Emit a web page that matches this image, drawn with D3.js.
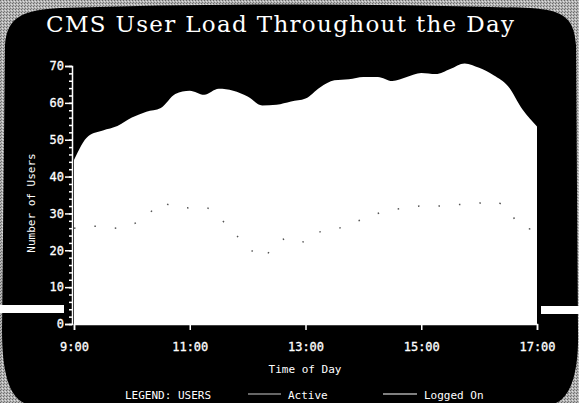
<!DOCTYPE html>
<html>
<head>
<meta charset="utf-8">
<script src="https://cdn.jsdelivr.net/npm/d3@7"></script>
<style>
  html, body { margin: 0; padding: 0; background: #a8a8a8; }
  svg { display: block; }
</style>
</head>
<body>
<div id="chart"></div>
<script>
// data, 15 minute samples
var times = ["9:00","9:15","9:30","9:45","10:00","10:15","10:30","10:45",
  "11:00","11:15","11:30","11:45","12:00","12:15","12:30","12:45",
  "13:00","13:15","13:30","13:45","14:00","14:15","14:30","14:45",
  "15:00","15:15","15:30","15:45","16:00","16:15","16:30","16:45","17:00"];
var loggedOn = [44.5, 51, 52.5, 53.7, 56, 57.6, 58.6, 62.4,
  63.3, 62.2, 63.8, 63.3, 61.7, 59.3, 59.5, 60.4,
  61.2, 64.2, 66.1, 66.4, 67, 67, 65.9, 67,
  68.1, 67.8, 69.2, 70.7, 69.5, 67.5, 64.5, 58.2, 53.6];
var active = [26, 26.5, 26.5, 26, 27, 29, 33, 31.7,
  31.5, 31.7, 29, 25, 21, 18, 22, 23.4,
  22.2, 25, 25.6, 27, 28.5, 30, 31, 31.5,
  32, 32, 32.3, 32.5, 32.8, 33.3, 31, 26, 25.7];
var xTicks = ["9:00", "11:00", "13:00", "15:00", "17:00"];
var yTicks = [0, 10, 20, 30, 40, 50, 60, 70];

var width = 579, height = 403;
var mono = "'DejaVu Sans Mono', monospace";
var parse = d3.timeParse("%H:%M");

var svg = d3.select("#chart").append("svg")
  .attr("width", width)
  .attr("height", height);

// dithered grey surround
var pat = svg.append("defs").append("pattern")
  .attr("id", "dith")
  .attr("width", 3).attr("height", 3)
  .attr("patternUnits", "userSpaceOnUse");
pat.append("rect").attr("width", 3).attr("height", 3).attr("fill", "#b4b4b4");
pat.append("rect").attr("x", 0).attr("y", 0).attr("width", 1).attr("height", 1).attr("fill", "#6a6a6a");
pat.append("rect").attr("x", 2).attr("y", 1).attr("width", 1).attr("height", 1).attr("fill", "#e0e0e0");
pat.append("rect").attr("x", 1).attr("y", 2).attr("width", 1).attr("height", 1).attr("fill", "#7a7a7a");

svg.append("rect")
  .attr("width", width).attr("height", height)
  .attr("fill", "url(#dith)");

// the screen itself
svg.append("path")
  .attr("d", "M5,45 C7,16 24,10 60,8 Q300,1 530,8 C566,10 574,20 576,45 " +
             "L578,330 C579,372 571,396 556,403 L24,403 C9,396 2,372 2,330 Z")
  .attr("fill", "#000");

var x = d3.scaleTime()
  .domain([parse("9:00"), parse("17:00")])
  .range([74, 537]);

var y = d3.scaleLinear()
  .domain([0, 70])
  .range([324, 66]);

var rows = times.map(function(t, i) {
  return { t: parse(t), logged: loggedOn[i], active: active[i] };
});

// logged on users, filled
var area = d3.area()
  .x(function(d) { return x(d.t); })
  .y0(y(0))
  .y1(function(d) { return y(d.logged); })
  .curve(d3.curveMonotoneX);

svg.append("path")
  .datum(rows)
  .attr("fill", "#fff")
  .attr("d", area);

// active users, faint dotted trace inside the fill
var line = d3.line()
  .x(function(d) { return x(d.t); })
  .y(function(d) { return y(d.active); })
  .curve(d3.curveMonotoneX);

svg.append("path")
  .datum(rows)
  .attr("fill", "none")
  .attr("stroke", "#555")
  .attr("stroke-width", 1.5)
  .attr("stroke-dasharray", "1.5,19")
  .attr("d", line);

// y axis
svg.append("g")
  .attr("transform", "translate(72,0)")
  .call(d3.axisLeft(y).tickValues(yTicks).tickSize(7).tickPadding(1));

svg.append("g")
  .attr("transform", "translate(72,0)")
  .call(d3.axisLeft(y).ticks(35).tickSize(3).tickFormat(""))
  .select(".domain").remove();

// x axis
svg.append("g")
  .attr("transform", "translate(0," + y(0) + ")")
  .call(d3.axisBottom(x)
    .tickValues(xTicks.map(parse))
    .tickFormat(d3.timeFormat("%-H:%M"))
    .tickSize(6).tickPadding(12));

svg.selectAll(".domain, .tick line")
  .attr("stroke", "#fff")
  .attr("stroke-width", 1.5);
svg.selectAll(".tick text")
  .attr("fill", "#fff")
  .attr("font-family", mono)
  .attr("font-size", 12)
  .attr("stroke", "#fff")
  .attr("stroke-width", 0.3);

// titles
svg.append("text")
  .attr("x", 46).attr("y", 32)
  .attr("textLength", 468)
  .attr("lengthAdjust", "spacing")
  .attr("fill", "#fff")
  .attr("font-family", "'DejaVu Serif', serif")
  .attr("font-size", 23)
  .text("CMS User Load Throughout the Day");

svg.append("text")
  .attr("x", 305).attr("y", 373)
  .attr("text-anchor", "middle")
  .attr("fill", "#fff")
  .attr("font-family", mono)
  .attr("font-size", 11)
  .text("Time of Day");

svg.append("text")
  .attr("transform", "translate(35,203) rotate(-90)")
  .attr("text-anchor", "middle")
  .attr("fill", "#fff")
  .attr("font-family", mono)
  .attr("font-size", 11)
  .text("Number of Users");

// legend
var legend = svg.append("g")
  .attr("fill", "#fff")
  .attr("font-family", mono)
  .attr("font-size", 11);

legend.append("text").attr("x", 125).attr("y", 399).text("LEGEND: USERS");

legend.append("line")
  .attr("x1", 248).attr("x2", 281).attr("y1", 394).attr("y2", 394)
  .attr("stroke", "#ccc").attr("stroke-width", 1);
legend.append("text").attr("x", 288).attr("y", 399).text("Active");

legend.append("line")
  .attr("x1", 383).attr("x2", 417).attr("y1", 394).attr("y2", 394)
  .attr("stroke", "#fff").attr("stroke-width", 1.2);
legend.append("text").attr("x", 424).attr("y", 399).text("Logged On");

// scanline glitch across the screen edges
svg.append("rect").attr("x", 0).attr("y", 305).attr("width", 64).attr("height", 8).attr("fill", "#fff");
svg.append("rect").attr("x", 541).attr("y", 306).attr("width", 38).attr("height", 8).attr("fill", "#fff");
</script>
</body>
</html>
